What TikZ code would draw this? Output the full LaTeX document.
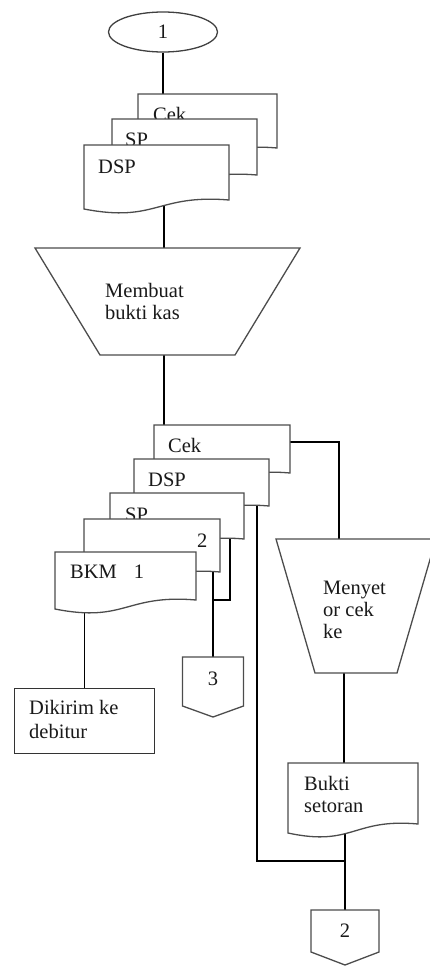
\documentclass[tikz,border=0pt]{standalone}
\usepackage{fontspec}
\setmainfont{Liberation Serif}
\usetikzlibrary{shapes.geometric,calc}

% document symbol: straight top and sides, wavy bottom rising towards the right
\newcommand{\docoutline}[2]{%
  \path[docline] (#1.north west) -- (#1.north east) -- ($(#1.south east)+(0,-#2)$)
    .. controls ($(#1.south)+(0,{-#2-6})$) and ($(#1.south)+(0,14)$) .. (#1.south west) -- cycle;}
% off-page connector: box with a pointed bottom
\newcommand{\offoutline}[2]{%
  \path[shapeline] (#1.north west) -- (#1.north east) -- (#1.south east)
    -- ($(#1.south)+(0,#2)$) -- (#1.south west) -- cycle;}
% left aligned multi-line text whose baseline is the first line
\newcommand{\lines}[1]{\begin{tabular}[t]{@{}l@{}}#1\end{tabular}}

\begin{document}
\begin{tikzpicture}[x=1pt,y=-1pt,
  every node/.style={font=\fontsize{20.5}{22}\selectfont, text=black!90},
  docframe/.style={rectangle, draw=none, inner sep=0pt, outer sep=0pt, anchor=north west},
  offframe/.style={rectangle, draw=none, inner sep=0pt, outer sep=0pt, anchor=north},
  docline/.style={draw=black!70, fill=white, line width=1.3pt},
  shapeline/.style={draw=black!70, line width=1.3pt},
  conn/.style={draw=black, line width=1.3pt},
  txt/.style={anchor=base west, inner sep=0pt}]
\useasboundingbox (0,0) rectangle (429,966);

% ---- nodes and anchor points ----
\node[ellipse, draw=black!75, line width=1.3pt, fill=white, minimum width=109pt,
      minimum height=40pt, inner sep=0pt] (start) at (163,32) {1};
\node[docframe, minimum width=139pt, minimum height=63pt] (cekA) at (138,94) {};
\node[docframe, minimum width=145pt, minimum height=65pt] (spA)  at (112,119) {};
\node[docframe, minimum width=145pt, minimum height=64pt] (dspA) at (84,145) {};
\coordinate (mkTop) at (164,248);
\coordinate (mkBot) at (164,355);
\node[docframe, minimum width=136pt, minimum height=57pt] (cekB) at (154,425) {};
\node[docframe, minimum width=135pt, minimum height=56pt] (dspB) at (134,459) {};
\node[docframe, minimum width=134pt, minimum height=55pt] (spB)  at (110,493) {};
\node[docframe, minimum width=136pt, minimum height=62pt] (twoB) at (84,519) {};
\node[docframe, minimum width=141pt, minimum height=57pt] (bkm)  at (55,552) {};
\node[rectangle, draw=black!80, line width=1.3pt, inner sep=0pt, anchor=north west,
      minimum width=140pt, minimum height=65pt] (kirim) at (14,688) {};
\node[offframe, minimum width=61pt, minimum height=49pt] (pg3) at (213,657) {\raisebox{6pt}{3}};
\coordinate (sgTop) at (339,539);
\coordinate (sgBot) at (344,673);
\node[docframe, minimum width=130pt, minimum height=70pt] (bukti) at (288,763) {};
\node[offframe, minimum width=68pt, minimum height=42pt] (pg2) at (345,910) {2};
\coordinate (join) at (345,861);
\coordinate (kink) at (213,600);

% ---- connectors (shapes drawn afterwards cover their starts) ----
\draw[conn] (start.south) -- (start.south |- cekA.north);
\draw[conn] (mkTop |- dspA.center) -- (mkTop);
\draw[conn] (mkBot) -- (mkBot |- cekB.north);
\draw[conn] ($(cekB.north east)+(0,17)$) -| (sgTop);
\draw[conn] (sgBot) -- (sgBot |- bukti.north);
\draw[conn] ($(dspB.south east)+(-12,-15)$) |- (join);
\draw[conn] ($(spB.south east)+(-14,-15)$) |- (kink);
\draw[conn] (pg3.north |- twoB.center) -- (pg3.north);
\draw[conn] (kirim.north |- bkm.center) -- (kirim.north);
\draw[conn] (join |- bukti.center) -- (pg2.north);

% ---- first document stack ----
\docoutline{cekA}{9}
\node[txt] (cekAt) at (153,121) {Cek};
\docoutline{spA}{9}
\node[txt] (spAt) at (125,146) {SP};
\docoutline{dspA}{9}
\node[txt] (dspAt) at (98,173) {DSP};

% ---- manual operation: Membuat bukti kas ----
\path[shapeline, fill=white] (35,248) -- (300,248) -- (235,355) -- (100,355) -- cycle;
\node[txt] (mkT) at (105,297) {\lines{Membuat\\bukti kas}};

% ---- second document stack ----
\docoutline{cekB}{9}
\node[txt] (cekBt) at (168,452) {Cek};
\docoutline{dspB}{9}
\node[txt] (dspBt) at (148,486) {DSP};
\docoutline{spB}{9}
\node[txt] (spBt) at (125,521) {SP};
\docoutline{twoB}{9}
\node[txt] (twoBt) at (197,547) {2};
\docoutline{bkm}{9}
\node[txt] (bkmt) at (70,578) {BKM\hspace{17pt}1};

\node[txt] (kirimt) at (29,714) {\lines{Dikirim ke\\[2pt]debitur}};
\offoutline{pg3}{11}

% ---- manual operation: Menyetor cek ke ----
\path[shapeline, fill=white] (276,539) -- (436,539) -- (397,673) -- (315,673) -- cycle;
\node[txt] (sgT) at (323,594) {\lines{Menyet\\or cek\\ke}};

\docoutline{bukti}{9}
\node[txt] (buktit) at (304,790) {\lines{Bukti\\setoran}};
\offoutline{pg2}{13}
\end{tikzpicture}
\end{document}
